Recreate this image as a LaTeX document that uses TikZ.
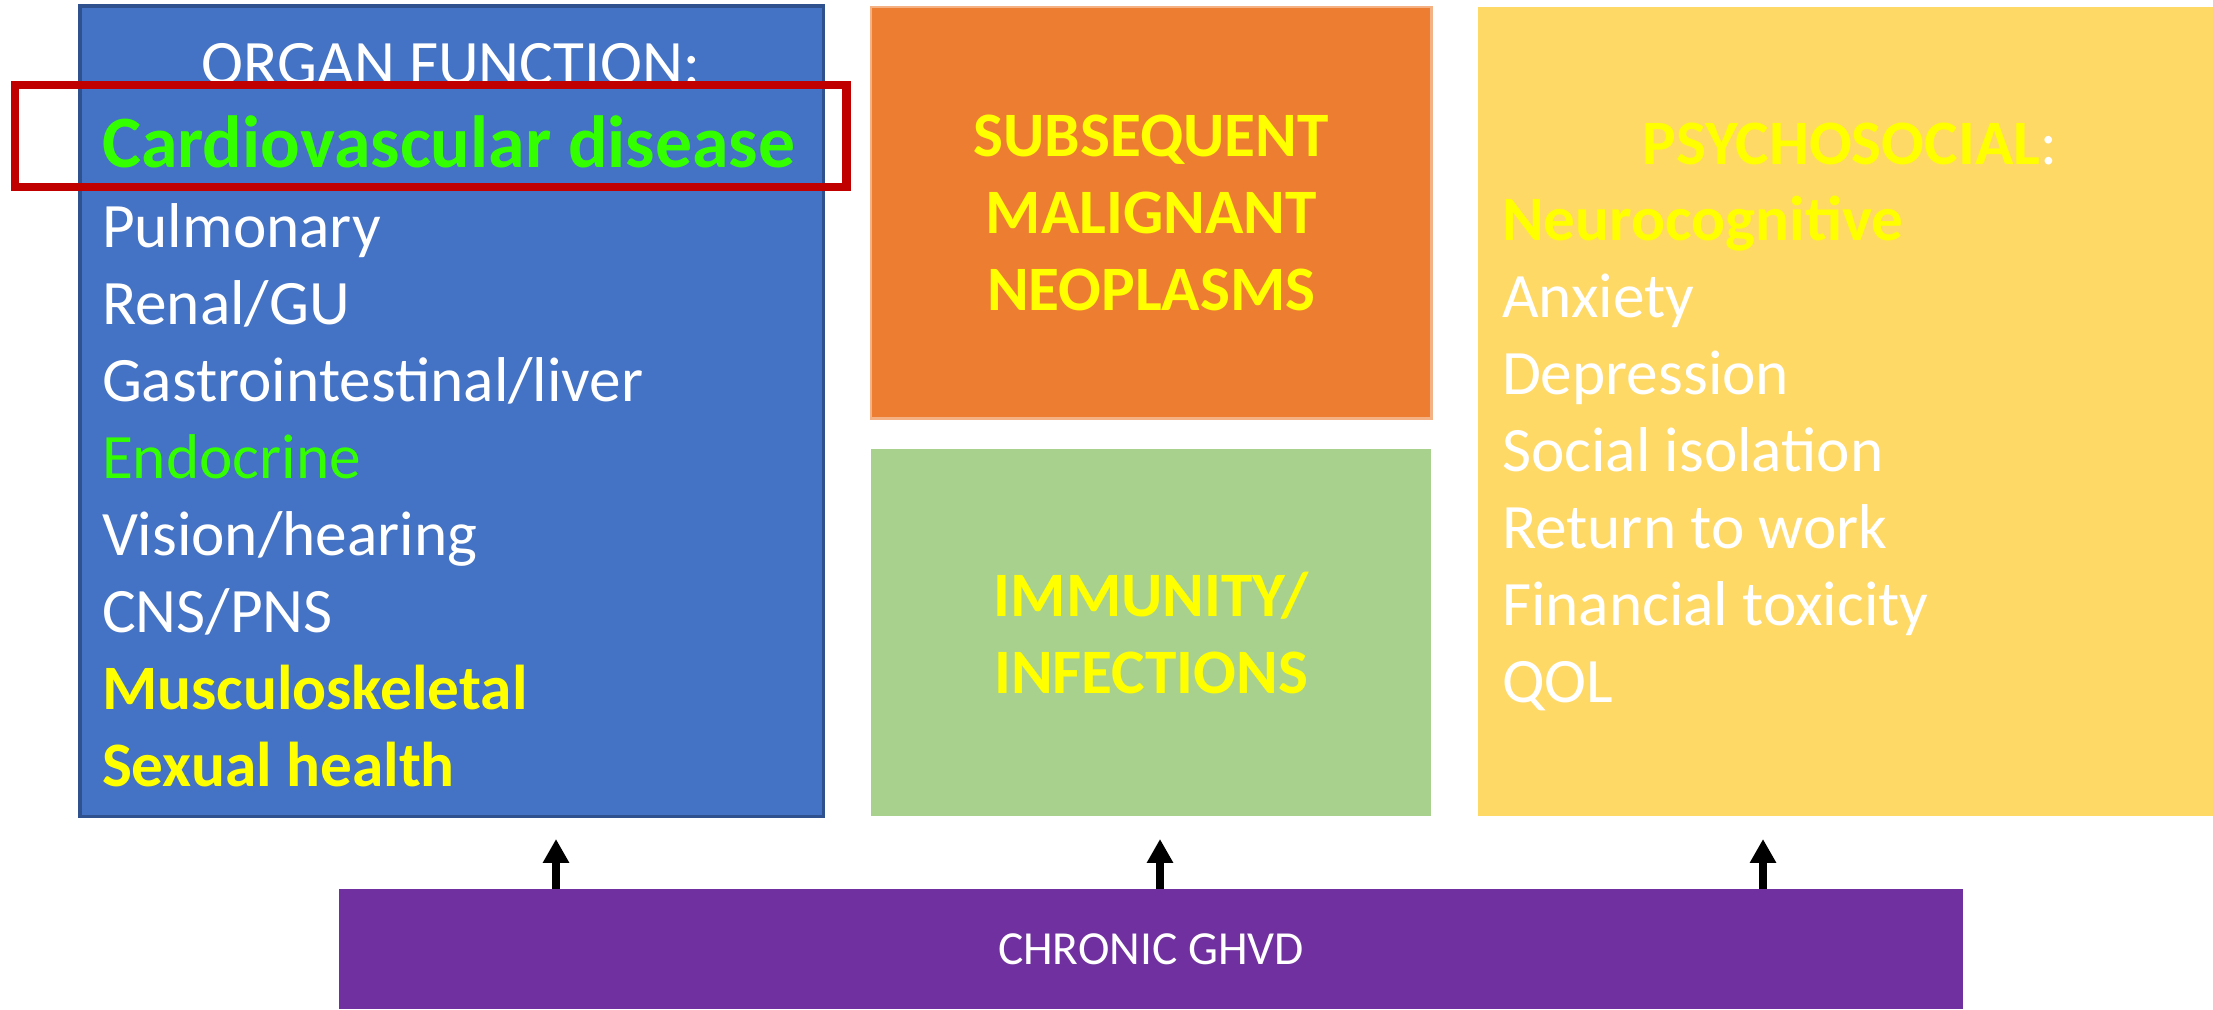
\documentclass[tikz,border=0pt]{standalone}
\usepackage{fontspec}
\setmainfont{Carlito}
\usepackage{xcolor}
\usepackage{tikz}
\usetikzlibrary{arrows.meta}
\definecolor{organblue}{HTML}{4472C4}
\definecolor{organedge}{HTML}{2F528F}
\definecolor{smnorange}{HTML}{ED7D31}
\definecolor{smnedge}{HTML}{F4B183}
\definecolor{immgreen}{HTML}{A9D18E}
\definecolor{psyyellow}{HTML}{FFD966}
\definecolor{ghvdpurple}{HTML}{7030A0}
\definecolor{hotyellow}{HTML}{FFFF00}
\definecolor{hotgreen}{HTML}{33FF00}
\definecolor{hired}{HTML}{C00000}

\begin{document}
\begin{tikzpicture}[x=0.01cm, y=-0.01cm, every node/.style={inner sep=0pt, outer sep=0pt}, box/.style={rectangle, anchor=north west}, item/.style={anchor=base west, text=white, font=\fontsize{18}{22}\selectfont}, gitem/.style={item, text=hotgreen}, hot/.style={item, text=hotyellow, font=\fontsize{18}{22}\selectfont\bfseries}, title/.style={text=hotyellow, align=center, font=\fontsize{18}{21.9}\selectfont\bfseries}, up/.style={-{Triangle[length=6.8pt, width=7.1pt]}, line width=2.1pt}]
  \useasboundingbox (0,0) rectangle (2213,1009);
  \node[box, fill=organblue, draw=organedge, line width=1pt, minimum width=7.43cm, minimum height=8.10cm] (organ) at (80,6) {};
  \node[box, fill=smnorange, draw=smnedge, line width=0.8pt, minimum width=5.60cm, minimum height=4.11cm] (smn) at (871,7) {};
  \node[box, fill=immgreen, minimum width=5.60cm, minimum height=3.67cm] (imm) at (871,449) {};
  \node[box, fill=psyyellow, minimum width=7.45cm, minimum height=8.09cm] (psy) at (1478,7) {};
  \node[box, fill=ghvdpurple, minimum width=16.23cm, minimum height=1.20cm] (ghvd) at (339,889) {};

  \node[anchor=base, text=white, font=\fontsize{18}{22}\selectfont] (orgtitle) at (451,84) {ORGAN FUNCTION:};
  \node[item, text=hotgreen, font=\fontsize{21}{25}\selectfont\bfseries] (cvd) at (102,167) {Cardiovascular disease};
  \foreach \sty/\lbl [count=\i] in {item/Pulmonary, item/{Renal/GU}, item/{Gastrointestinal/liver}, gitem/Endocrine, item/{Vision/hearing}, item/{CNS/PNS}, hot/Musculoskeletal, hot/{Sexual health}}
    \node[\sty] (org\i) at (102,{247+77*(\i-1)}) {\lbl};
  \node[box, draw=hired, line width=2.3pt, minimum width=8.31cm, minimum height=1.02cm] (hl) at (15,85) {};

  \node[title] (smntext) at (smn.center) {SUBSEQUENT\\MALIGNANT\\NEOPLASMS};
  \node[title] (immtext) at (imm.center) {IMMUNITY/\\INFECTIONS};

  \node[anchor=base, text=white, font=\fontsize{18}{22}\selectfont] (psytitle) at (1850,164) {\textcolor{hotyellow}{\bfseries PSYCHOSOCIAL}:};
  \foreach \sty/\lbl [count=\i] in {hot/Neurocognitive, item/Anxiety, item/Depression, item/{Social isolation}, item/{Return to work}, item/{Financial toxicity}, item/QOL}
    \node[\sty] (psy\i) at (1502,{240+77*(\i-1)}) {\lbl};

  \node[text=white, font=\fontsize{13.5}{16}\selectfont] (ghvdtext) at (ghvd.center) {CHRONIC GHVD};

  \coordinate (t1) at (556,839);
  \coordinate (t2) at (1160,839);
  \coordinate (t3) at (1763,839);
  \draw[up] (t1 |- ghvd.north) -- (t1);
  \draw[up] (t2 |- ghvd.north) -- (t2);
  \draw[up] (t3 |- ghvd.north) -- (t3);
\end{tikzpicture}
\end{document}
